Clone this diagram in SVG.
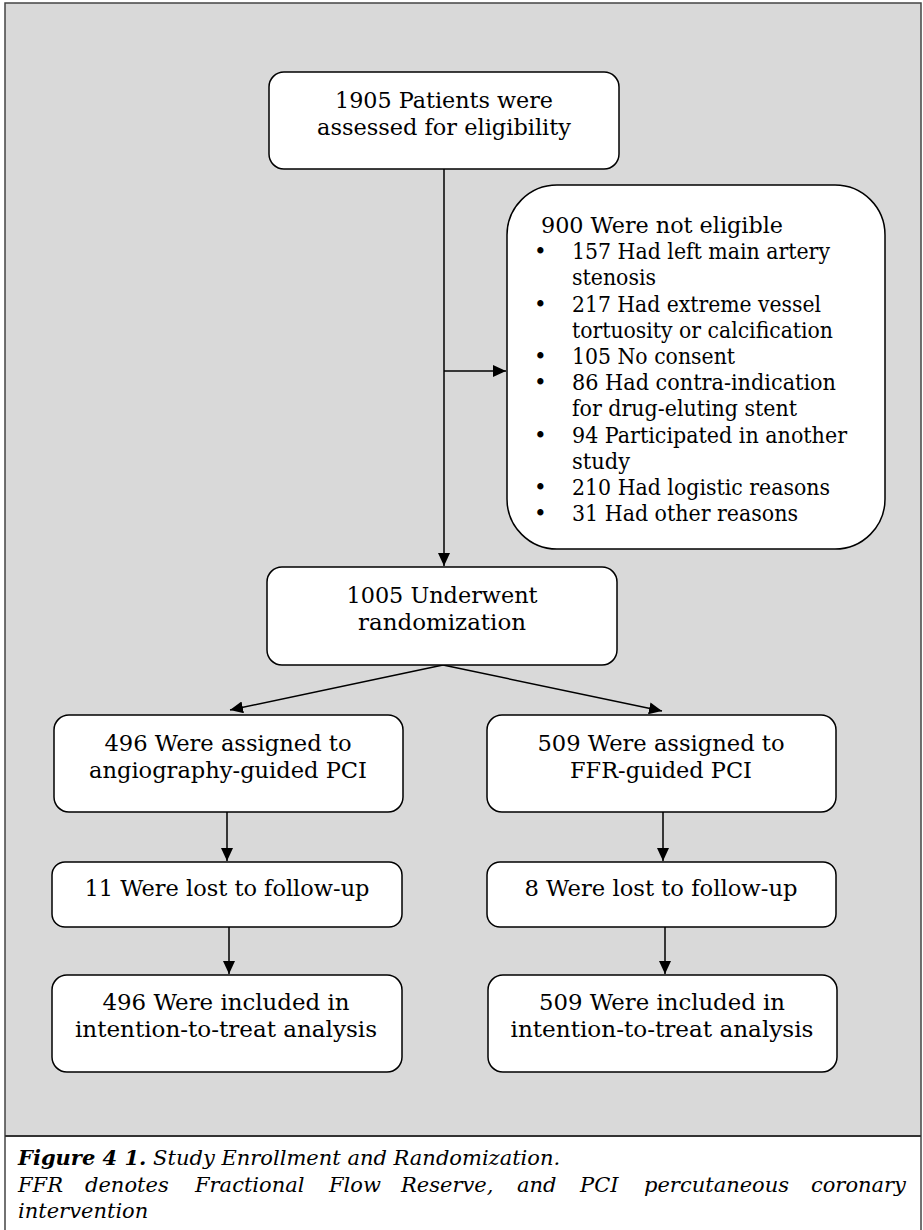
<svg xmlns="http://www.w3.org/2000/svg" width="923" height="1230" viewBox="0 0 923 1230">
<defs>
<marker id="ah" markerUnits="userSpaceOnUse" markerWidth="14" markerHeight="12" refX="13" refY="6" orient="auto">
<path d="M0,0 L13,6 L0,12 Z" fill="#000"/>
</marker>
<style>
.box{fill:#fff;stroke:#000;stroke-width:1.5}
.t{font-family:"DejaVu Serif","Liberation Serif",serif;font-size:21.5px;fill:#000}
.c{text-anchor:middle}
.cap{font-family:"DejaVu Serif","Liberation Serif",serif;font-size:21px;font-style:italic;fill:#000}
.ln{stroke:#000;stroke-width:1.5;fill:none}
</style>
</defs>
<rect x="0" y="0" width="923" height="1230" fill="#fff"/>
<rect x="5" y="3" width="916" height="1133" fill="#d9d9d9"/>
<path d="M5,1240 V3 H921 V1240" fill="none" stroke="#444" stroke-width="1.5"/>
<line x1="5" y1="1136" x2="921" y2="1136" stroke="#333" stroke-width="2"/>

<g id="connectors">
<line class="ln" x1="444" y1="169" x2="444" y2="566" marker-end="url(#ah)"/>
<line class="ln" x1="444" y1="371" x2="506" y2="371" marker-end="url(#ah)"/>
<line class="ln" x1="443" y1="665" x2="230" y2="710" marker-end="url(#ah)"/>
<line class="ln" x1="443" y1="665" x2="662" y2="711" marker-end="url(#ah)"/>
<line class="ln" x1="227" y1="812" x2="227" y2="861" marker-end="url(#ah)"/>
<line class="ln" x1="229" y1="927" x2="229" y2="974" marker-end="url(#ah)"/>
<line class="ln" x1="663" y1="812" x2="663" y2="861" marker-end="url(#ah)"/>
<line class="ln" x1="665" y1="927" x2="665" y2="974" marker-end="url(#ah)"/>
</g>

<g id="n1">
<rect class="box" x="269" y="72" width="350" height="97" rx="15"/>
<text class="t c" x="444" y="108" textLength="218" lengthAdjust="spacingAndGlyphs">1905 Patients were</text>
<text class="t c" x="444" y="135" textLength="254" lengthAdjust="spacingAndGlyphs">assessed for eligibility</text>
</g>

<g id="n2">
<rect class="box" x="507" y="185" width="378" height="364" rx="50"/>
<text class="t" x="541" y="233" textLength="242" lengthAdjust="spacingAndGlyphs">900 Were not eligible</text>
<text class="t" x="534" y="259">•</text><text class="t" x="572" y="259" textLength="258" lengthAdjust="spacingAndGlyphs">157 Had left main artery</text>
<text class="t" x="572" y="285" textLength="84" lengthAdjust="spacingAndGlyphs">stenosis</text>
<text class="t" x="534" y="312">•</text><text class="t" x="572" y="312" textLength="249" lengthAdjust="spacingAndGlyphs">217 Had extreme vessel</text>
<text class="t" x="572" y="338" textLength="261" lengthAdjust="spacingAndGlyphs">tortuosity or calcification</text>
<text class="t" x="534" y="364">•</text><text class="t" x="572" y="364" textLength="163" lengthAdjust="spacingAndGlyphs">105 No consent</text>
<text class="t" x="534" y="390">•</text><text class="t" x="572" y="390" textLength="264" lengthAdjust="spacingAndGlyphs">86 Had contra-indication</text>
<text class="t" x="572" y="416" textLength="225" lengthAdjust="spacingAndGlyphs">for drug-eluting stent</text>
<text class="t" x="534" y="443">•</text><text class="t" x="572" y="443" textLength="275" lengthAdjust="spacingAndGlyphs">94 Participated in another</text>
<text class="t" x="572" y="469" textLength="58" lengthAdjust="spacingAndGlyphs">study</text>
<text class="t" x="534" y="495">•</text><text class="t" x="572" y="495" textLength="258" lengthAdjust="spacingAndGlyphs">210 Had logistic reasons</text>
<text class="t" x="534" y="521">•</text><text class="t" x="572" y="521" textLength="226" lengthAdjust="spacingAndGlyphs">31 Had other reasons</text>
</g>

<g id="n3">
<rect class="box" x="267" y="567" width="350" height="98" rx="15"/>
<text class="t c" x="442" y="603" textLength="191" lengthAdjust="spacingAndGlyphs">1005 Underwent</text>
<text class="t c" x="442" y="630" textLength="168" lengthAdjust="spacingAndGlyphs">randomization</text>
</g>

<g id="n4">
<rect class="box" x="54" y="715" width="349" height="97" rx="15"/>
<text class="t c" x="228" y="751" textLength="247" lengthAdjust="spacingAndGlyphs">496 Were assigned to</text>
<text class="t c" x="228" y="778" textLength="278" lengthAdjust="spacingAndGlyphs">angiography-guided PCI</text>
</g>

<g id="n5">
<rect class="box" x="487" y="715" width="349" height="97" rx="15"/>
<text class="t c" x="661" y="751" textLength="247" lengthAdjust="spacingAndGlyphs">509 Were assigned to</text>
<text class="t c" x="661" y="778" textLength="182" lengthAdjust="spacingAndGlyphs">FFR-guided PCI</text>
</g>

<g id="n6">
<rect class="box" x="52" y="862" width="350" height="65" rx="13"/>
<text class="t c" x="227" y="896" textLength="285" lengthAdjust="spacingAndGlyphs">11 Were lost to follow-up</text>
</g>

<g id="n7">
<rect class="box" x="487" y="862" width="349" height="65" rx="13"/>
<text class="t c" x="661" y="896" textLength="273" lengthAdjust="spacingAndGlyphs">8 Were lost to follow-up</text>
</g>

<g id="n8">
<rect class="box" x="52" y="975" width="350" height="97" rx="15"/>
<text class="t c" x="226" y="1010" textLength="247" lengthAdjust="spacingAndGlyphs">496 Were included in</text>
<text class="t c" x="226" y="1037" textLength="302" lengthAdjust="spacingAndGlyphs">intention-to-treat analysis</text>
</g>

<g id="n9">
<rect class="box" x="488" y="975" width="349" height="97" rx="15"/>
<text class="t c" x="662" y="1010" textLength="246" lengthAdjust="spacingAndGlyphs">509 Were included in</text>
<text class="t c" x="662" y="1037" textLength="303" lengthAdjust="spacingAndGlyphs">intention-to-treat analysis</text>
</g>

<g id="caption">
<text class="cap" x="18" y="1165"><tspan font-weight="bold">Figure 4 1.</tspan> Study Enrollment and Randomization.</text>
<text class="cap" y="1192"><tspan x="18">FFR</tspan><tspan x="85">denotes</tspan><tspan x="195">Fractional</tspan><tspan x="329">Flow</tspan><tspan x="401">Reserve,</tspan><tspan x="517">and</tspan><tspan x="580">PCI</tspan><tspan x="644">percutaneous</tspan></text>
<text class="cap" x="906" y="1192" text-anchor="end">coronary</text>
<text class="cap" x="18" y="1218">intervention</text>
</g>
</svg>
